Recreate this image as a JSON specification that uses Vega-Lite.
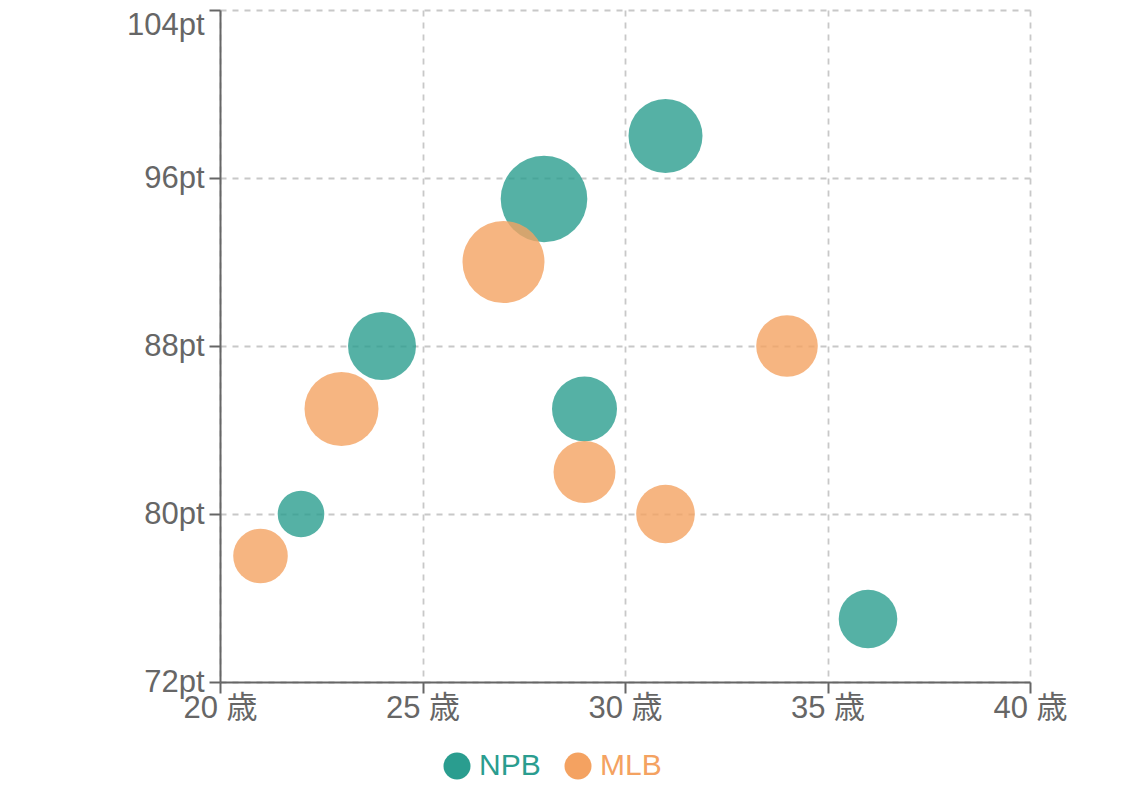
{
  "$schema": "https://vega.github.io/schema/vega-lite/v6.json",
  "autosize": {"type": "none"},
  "padding": {"left": 220, "top": 10, "right": 100, "bottom": 118},
  "width": 810,
  "height": 672,
  "background": "white",
  "data": {
    "values": [
      {"league": "NPB", "age": 22, "score": 80, "value": 23.3},
      {"league": "NPB", "age": 24, "score": 88, "value": 34},
      {"league": "NPB", "age": 28, "score": 95, "value": 43.3},
      {"league": "NPB", "age": 31, "score": 98, "value": 37},
      {"league": "NPB", "age": 29, "score": 85, "value": 32.5},
      {"league": "NPB", "age": 36, "score": 75, "value": 29.3},
      {"league": "MLB", "age": 21, "score": 78, "value": 27.3},
      {"league": "MLB", "age": 23, "score": 85, "value": 37},
      {"league": "MLB", "age": 27, "score": 92, "value": 41},
      {"league": "MLB", "age": 29, "score": 82, "value": 31},
      {"league": "MLB", "age": 31, "score": 80, "value": 29.3},
      {"league": "MLB", "age": 34, "score": 88, "value": 30.8}
    ]
  },
  "config": {
    "view": {"stroke": null},
    "font": "Liberation Sans",
    "axis": {
      "labelFont": "Liberation Sans, Noto Sans CJK JP",
      "labelFontSize": 31,
      "labelColor": "#666666",
      "domainColor": "#666666",
      "domainWidth": 2,
      "tickColor": "#666666",
      "tickWidth": 2,
      "tickSize": 11,
      "gridColor": "#c8c8c8",
      "gridDash": [6, 6],
      "gridWidth": 1.8,
      "title": null
    }
  },
  "mark": {"type": "circle", "opacity": 0.8},
  "encoding": {
    "x": {
      "field": "age",
      "type": "quantitative",
      "scale": {"domain": [20, 40], "nice": false},
      "axis": {
        "values": [20, 25, 30, 35, 40],
        "labelExpr": "datum.value + ' 歳'",
        "labelFlush": false,
        "labelPadding": 0
      }
    },
    "y": {
      "field": "score",
      "type": "quantitative",
      "scale": {"domain": [72, 104], "nice": false, "zero": false},
      "axis": {
        "values": [72, 80, 88, 96, 104],
        "labelExpr": "datum.value + 'pt'",
        "labelPadding": 5,
        "labelBaseline": {"condition": {"test": "datum.value == 104", "value": "top"}, "value": "middle"}
      }
    },
    "size": {
      "field": "value",
      "type": "quantitative",
      "scale": {"type": "pow", "exponent": 2, "domain": [0, 50], "range": [0, 10000]},
      "legend": null
    },
    "color": {
      "field": "league",
      "type": "nominal",
      "scale": {"domain": ["NPB", "MLB"], "range": ["#2a9d8f", "#f4a261"]},
      "legend": {
        "title": null,
        "orient": "none",
        "direction": "horizontal",
        "legendX": 222,
        "legendY": 741,
        "symbolType": "circle",
        "symbolSize": 729,
        "symbolOpacity": 1,
        "symbolStrokeWidth": 0,
        "labelFont": "Liberation Sans",
        "labelFontSize": 30,
        "labelOffset": 7,
        "columnPadding": 22,
        "encode": {
          "labels": {"update": {"fill": {"scale": "color", "field": "value"}}}
        }
      }
    }
  }
}
